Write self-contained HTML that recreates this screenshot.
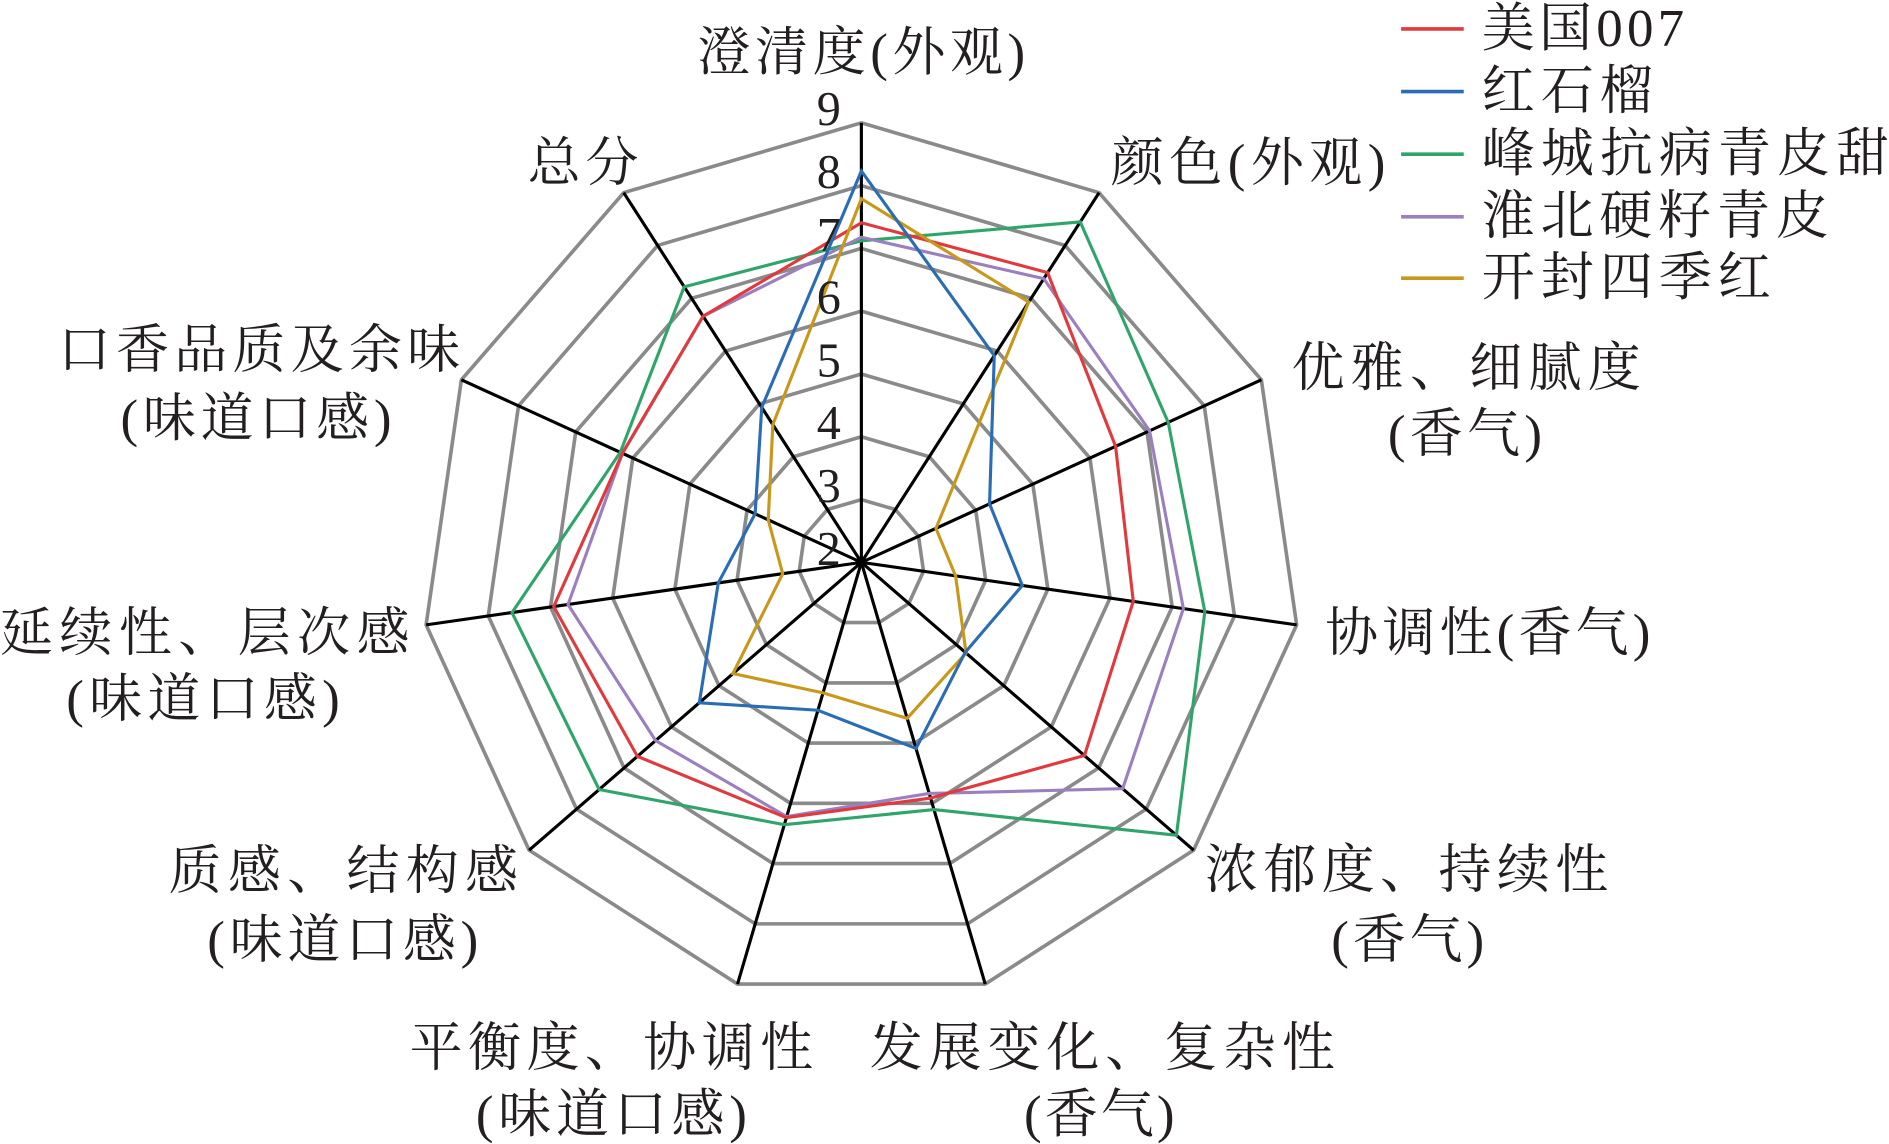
<!DOCTYPE html>
<html><head><meta charset="utf-8"><style>
html,body{margin:0;padding:0;background:#fff;}
svg{display:block;}
text{font-family:"Liberation Serif","Noto Serif CJK SC",serif;fill:#231f20;}
</style></head><body>
<svg id="s" width="1889" height="1144" viewBox="0 0 1568 950" preserveAspectRatio="none" xmlns="http://www.w3.org/2000/svg">
<g id="grid"></g><g id="data"></g>
<g font-size="44">
<text x="715" y="58" text-anchor="middle" textLength="272">澄清度(外观)</text>
<text x="922" y="150" textLength="228">颜色(外观)</text>
<text x="1072" y="320" textLength="290">优雅、细腻度</text>
<text x="1152" y="375" textLength="128">(香气)</text>
<text x="1100" y="540" textLength="270">协调性(香气)</text>
<text x="1000" y="737" textLength="335">浓郁度、持续性</text>
<text x="1105" y="795" textLength="127">(香气)</text>
<text x="722" y="885" textLength="386">发展变化、复杂性</text>
<text x="850" y="940" textLength="125">(香气)</text>
<text x="340" y="885" textLength="335">平衡度、协调性</text>
<text x="395" y="940" textLength="225">(味道口感)</text>
<text x="140" y="738" textLength="290">质感、结构感</text>
<text x="172" y="795" textLength="225">(味道口感)</text>
<text x="0" y="540" textLength="340">延续性、层次感</text>
<text x="55" y="595" textLength="227">(味道口感)</text>
<text x="48" y="305" textLength="334">口香品质及余味</text>
<text x="100" y="362" textLength="225">(味道口感)</text>
<text x="438" y="150" textLength="92">总分</text>
<text x="1230" y="38" textLength="168">美国007</text>
<text x="1230" y="90" textLength="142">红石榴</text>
<text x="1230" y="142" textLength="338">峰城抗病青皮甜</text>
<text x="1230" y="194" textLength="288">淮北硬籽青皮</text>
<text x="1230" y="245" textLength="240">开封四季红</text>
</g>
<g stroke-width="3">
<line x1="1163" y1="24" x2="1215" y2="24" stroke="#e03a3e"/>
<line x1="1163" y1="76" x2="1215" y2="76" stroke="#2a6db5"/>
<line x1="1163" y1="128" x2="1215" y2="128" stroke="#2fa56b"/>
<line x1="1163" y1="180" x2="1215" y2="180" stroke="#9b7fc0"/>
<line x1="1163" y1="231" x2="1215" y2="231" stroke="#c9981a"/>
</g>
<g id="nums" font-size="40" text-anchor="middle"></g>
</svg>
<script>
var cx=715,cy=467,st=52.14,N=11,NS="http://www.w3.org/2000/svg";
function pt(k,r){var a=k*2*Math.PI/N;return [cx+r*Math.sin(a),cy-r*Math.cos(a)];}
var g=document.getElementById('grid'),h='';
for(var i=1;i<=7;i++){var p=[];for(var k=0;k<N;k++)p.push(pt(k,i*st).map(function(v){return v.toFixed(1)}).join(','));
h+='<polygon points="'+p.join(' ')+'" fill="none" stroke="#8a8a8a" stroke-width="3"/>';}
for(var k=0;k<N;k++){var q=pt(k,7*st);h+='<line x1="'+cx+'" y1="'+cy+'" x2="'+q[0].toFixed(1)+'" y2="'+q[1].toFixed(1)+'" stroke="#000" stroke-width="2.6"/>';}
g.innerHTML=h;
var D=[
["#2fa56b",[267,336,280,288,346,214,227,288,293,220,272]],
["#9b7fc0",[270,280,263,270,287,200,220,226,246,218,243]],
["#e03a3e",[282,286,232,228,245,204,221,246,258,218,243]],
["#c9981a",[302,257,68,79,115,135,113,141,66,85,136]],
["#2a6db5",[325,204,117,135,114,161,128,178,120,97,153]]];
var d='';D.forEach(function(s){var p=[];for(var k=0;k<N;k++)p.push(pt(k,s[1][k]).map(function(v){return v.toFixed(1)}).join(','));
d+='<polygon points="'+p.join(' ')+'" fill="none" stroke="'+s[0]+'" stroke-width="2.6" stroke-linejoin="miter"/>';});
document.getElementById('data').innerHTML=d;
var n='';for(var v=2;v<=9;v++){n+='<text x="688" y="'+(cy-(v-2)*st+2).toFixed(1)+'">'+v+'</text>';}
document.getElementById('nums').innerHTML=n;
</script>
</body></html>
